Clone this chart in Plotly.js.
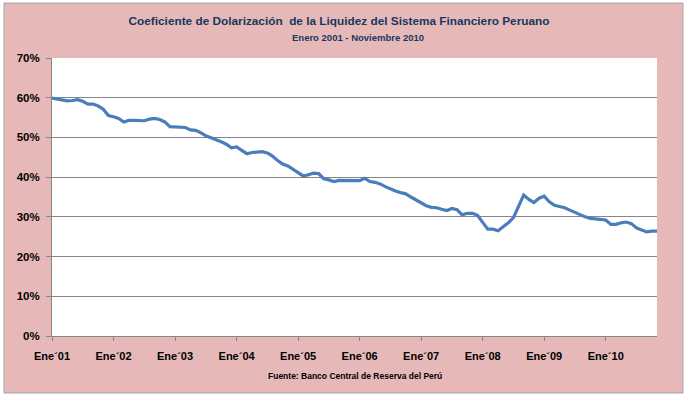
<!DOCTYPE html>
<html>
<head>
<meta charset="utf-8">
<script src="https://cdn.plot.ly/plotly-3.0.1.min.js"></script>
<style>html,body{margin:0;padding:0;background:#fff;}#chart{width:687px;height:399px;}</style>
</head>
<body>
<div id="chart"></div>
<script>
// Coeficiente de dolarización (%), mensual, enero 2001 - noviembre 2010
const months = [];
const dolarizacion = [
  59.9, 59.6, 59.4, 59.2, 59.3, 59.5, 59.1, 58.4, 58.4, 57.9, 57.1, 55.5,
  55.2, 54.8, 53.9, 54.3, 54.3, 54.3, 54.2, 54.6, 54.8, 54.5, 53.9, 52.7,
  52.7, 52.6, 52.5, 51.9, 51.8, 51.2, 50.4, 49.9, 49.5, 48.9, 48.3, 47.4,
  47.6, 46.8, 45.9, 46.2, 46.4, 46.4, 46.1, 45.3, 44.2, 43.3, 42.8, 42.0,
  41.2, 40.3, 40.6, 41.0, 40.9, 39.6, 39.3, 38.9, 39.2, 39.2, 39.2, 39.0,
  39.1, 39.7, 38.9, 38.7, 38.3, 37.6, 37.0, 36.5, 36.1, 35.8, 35.0, 34.3,
  33.6, 32.8, 32.4, 32.3, 31.9, 31.6, 32.1, 31.8, 30.5, 30.9, 30.9, 30.4,
  28.6, 26.9, 26.9, 26.5, 27.5, 28.5, 29.8, 32.6, 35.5, 34.4, 33.6, 34.7,
  35.2, 33.8, 32.9, 32.6, 32.3, 31.7, 31.1, 30.5, 30.0, 29.6, 29.4, 29.3,
  29.2, 28.1, 28.1, 28.5, 28.7, 28.3, 27.2, 26.7, 26.2, 26.4, 26.4
];
for (let i = 0; i < dolarizacion.length; i++) months.push(i);

const yearTickPositions = [0, 12, 24, 36, 48, 60, 72, 84, 96, 108];
const yearTickLabels = ["Ene´01", "Ene´02", "Ene´03", "Ene´04", "Ene´05", "Ene´06", "Ene´07", "Ene´08", "Ene´09", "Ene´10"];
const yTicks = [0, 10, 20, 30, 40, 50, 60, 70];
const yTickLabels = ["0%", "10%", "20%", "30%", "40%", "50%", "60%", "70%"];

const titleText = "Coeficiente de Dolarización  de la Liquidez del Sistema Financiero Peruano";
const subtitleText = "Enero 2001 - Noviembre 2010";
const sourceText = "Fuente: Banco Central de Reserva del Perú";

const FONT = "Liberation Sans, Arial, sans-serif";
const W = 687, H = 399;
const L = 52, R = 30, T = 58, B = 63;
const pw = W - L - R, ph = H - T - B;
const px = x => (x - L) / pw;
const py = y => (H - B - y) / ph;

const trace = {
  x: months,
  y: dolarizacion,
  type: "scatter",
  mode: "lines",
  line: {color: "#4A7EBB", width: 3.2},
  hoverinfo: "y",
  showlegend: false
};

const layout = {
  width: W, height: H,
  margin: {l: L, r: R, t: T, b: B, pad: 0},
  paper_bgcolor: "#ffffff",
  plot_bgcolor: "rgba(0,0,0,0)",
  title: {
    text: "<b>" + titleText + "</b>",
    font: {family: FONT, size: 11.8, color: "#17375E"},
    x: 339 / W, xref: "container", xanchor: "center",
    y: 1 - 21 / H, yref: "container", yanchor: "middle"
  },
  xaxis: {
    range: [0, months.length - 1],
    tickmode: "array",
    tickvals: yearTickPositions,
    ticktext: yearTickLabels,
    ticks: "outside", ticklen: 4, tickcolor: "#868686", tickwidth: 1,
    ticklabelstandoff: 6,
    showgrid: false, zeroline: false,
    showline: true, linecolor: "#868686", linewidth: 1,
    tickfont: {family: FONT, size: 11, color: "#000000", weight: "bold"},
    fixedrange: true
  },
  yaxis: {
    range: [0, 70],
    tickmode: "array",
    tickvals: yTicks,
    ticktext: yTickLabels,
    ticks: "outside", ticklen: 5, tickcolor: "#868686", tickwidth: 1,
    ticklabelstandoff: 4,
    showgrid: true, gridcolor: "#868686", gridwidth: 1,
    zeroline: false,
    showline: true, linecolor: "#868686", linewidth: 1,
    tickfont: {family: FONT, size: 11.5, color: "#000000", weight: "bold"},
    fixedrange: true
  },
  shapes: [
    {type: "rect", xref: "paper", yref: "paper", layer: "below",
     x0: px(4), x1: px(683), y0: py(393), y1: py(3),
     fillcolor: "#E6B9B8", line: {color: "#A6A6A6", width: 1}},
    {type: "rect", xref: "paper", yref: "paper", layer: "below",
     x0: 0, x1: 1, y0: 0, y1: 1,
     fillcolor: "#FFFFFF", line: {width: 0}}
  ],
  annotations: [
    {text: "<b>" + subtitleText + "</b>", xref: "paper", yref: "paper",
     x: px(358), y: py(37), xanchor: "center", yanchor: "middle", showarrow: false,
     font: {family: FONT, size: 9.5, color: "#17375E"}},
    {text: "<b>" + sourceText + "</b>", xref: "paper", yref: "paper",
     x: px(355), y: py(376), xanchor: "center", yanchor: "middle", showarrow: false,
     font: {family: FONT, size: 8.5, color: "#000000"}}
  ]
};

Plotly.newPlot("chart", [trace], layout, {displayModeBar: false, staticPlot: true});
</script>
</body>
</html>
